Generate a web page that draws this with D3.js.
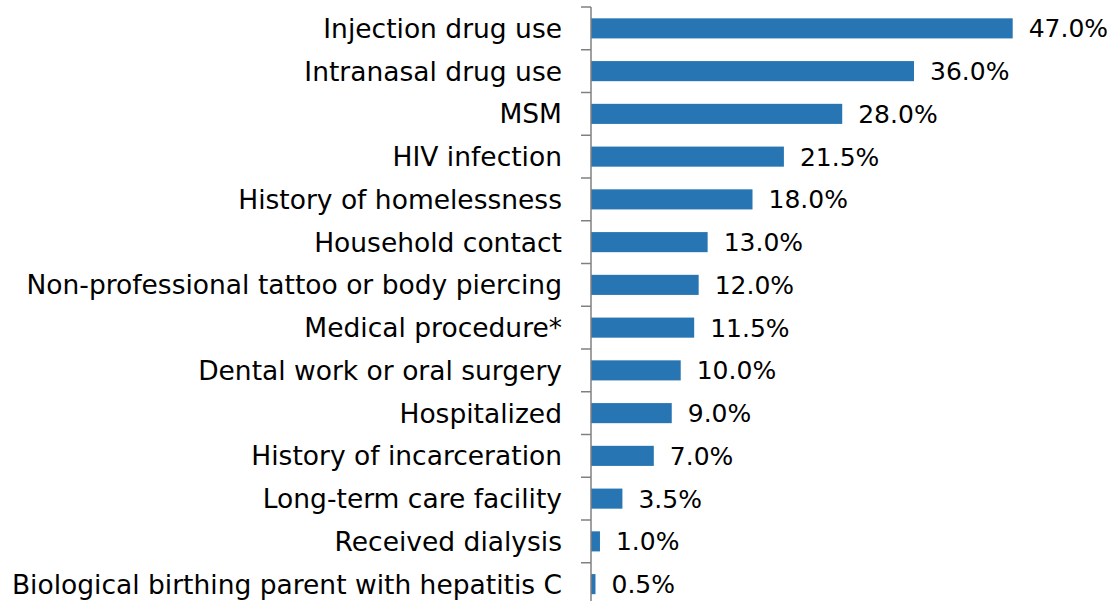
<!DOCTYPE html>
<html><head><meta charset="utf-8">
<script src="https://cdn.jsdelivr.net/npm/d3@7"></script>
<style>html,body{margin:0;padding:0;background:#fff;}</style>
</head><body>
<svg id="chart" width="1119" height="601"></svg>
<script>
const categories = ["Injection drug use","Intranasal drug use","MSM","HIV infection","History of homelessness","Household contact","Non-professional tattoo or body piercing","Medical procedure*","Dental work or oral surgery","Hospitalized","History of incarceration","Long-term care facility","Received dialysis","Biological birthing parent with hepatitis C"];
const values = [47.0,36.0,28.0,21.5,18.0,13.0,12.0,11.5,10.0,9.0,7.0,3.5,1.0,0.5];
const valueLabels = ["47.0%","36.0%","28.0%","21.5%","18.0%","13.0%","12.0%","11.5%","10.0%","9.0%","7.0%","3.5%","1.0%","0.5%"];

const svg = d3.select("#chart");
const x0 = 591, fontFam = "'DejaVu Sans', sans-serif";
const x = d3.scaleLinear().domain([0, 47]).range([x0, 1012.7]);
const y = d3.scaleBand().domain(categories).range([7, 7 + 14 * 42.75]).paddingInner(0.53).paddingOuter(0.265);

// bars
svg.selectAll("rect.bar").data(values).enter().append("rect")
  .attr("class","bar")
  .attr("x", x(0))
  .attr("y", (d,i) => y(categories[i]))
  .attr("width", d => x(d) - x(0))
  .attr("height", y.bandwidth())
  .attr("fill", "#2776b3");

// axis line and ticks at band boundaries
const step = y.step();
const boundaries = d3.range(15).map(i => 7 + i * step);
svg.append("line").attr("x1", x0).attr("x2", x0).attr("y1", 7).attr("y2", 601)
  .attr("stroke", "#808080").attr("stroke-width", 1.5);
svg.selectAll("line.tick").data(boundaries).enter().append("line")
  .attr("class","tick")
  .attr("x1", x0 - 10).attr("x2", x0).attr("y1", d => d).attr("y2", d => d)
  .attr("stroke", "#808080").attr("stroke-width", 1.5);

// category labels
svg.selectAll("text.cat").data(categories).enter().append("text")
  .attr("class","cat")
  .attr("x", 562)
  .attr("y", d => y(d) + y.bandwidth()/2)
  .attr("dy", "0.36em")
  .attr("text-anchor", "end")
  .attr("font-family", fontFam)
  .attr("font-size", 26.5)
  .attr("fill", "#000")
  .text(d => d);

// value labels
svg.selectAll("text.val").data(values).enter().append("text")
  .attr("class","val")
  .attr("x", d => x(d) + 16)
  .attr("y", (d,i) => y(categories[i]) + y.bandwidth()/2)
  .attr("dy", "0.36em")
  .attr("font-family", fontFam)
  .attr("font-size", 25)
  .attr("fill", "#000")
  .text((d,i) => valueLabels[i]);
</script>
</body></html>
